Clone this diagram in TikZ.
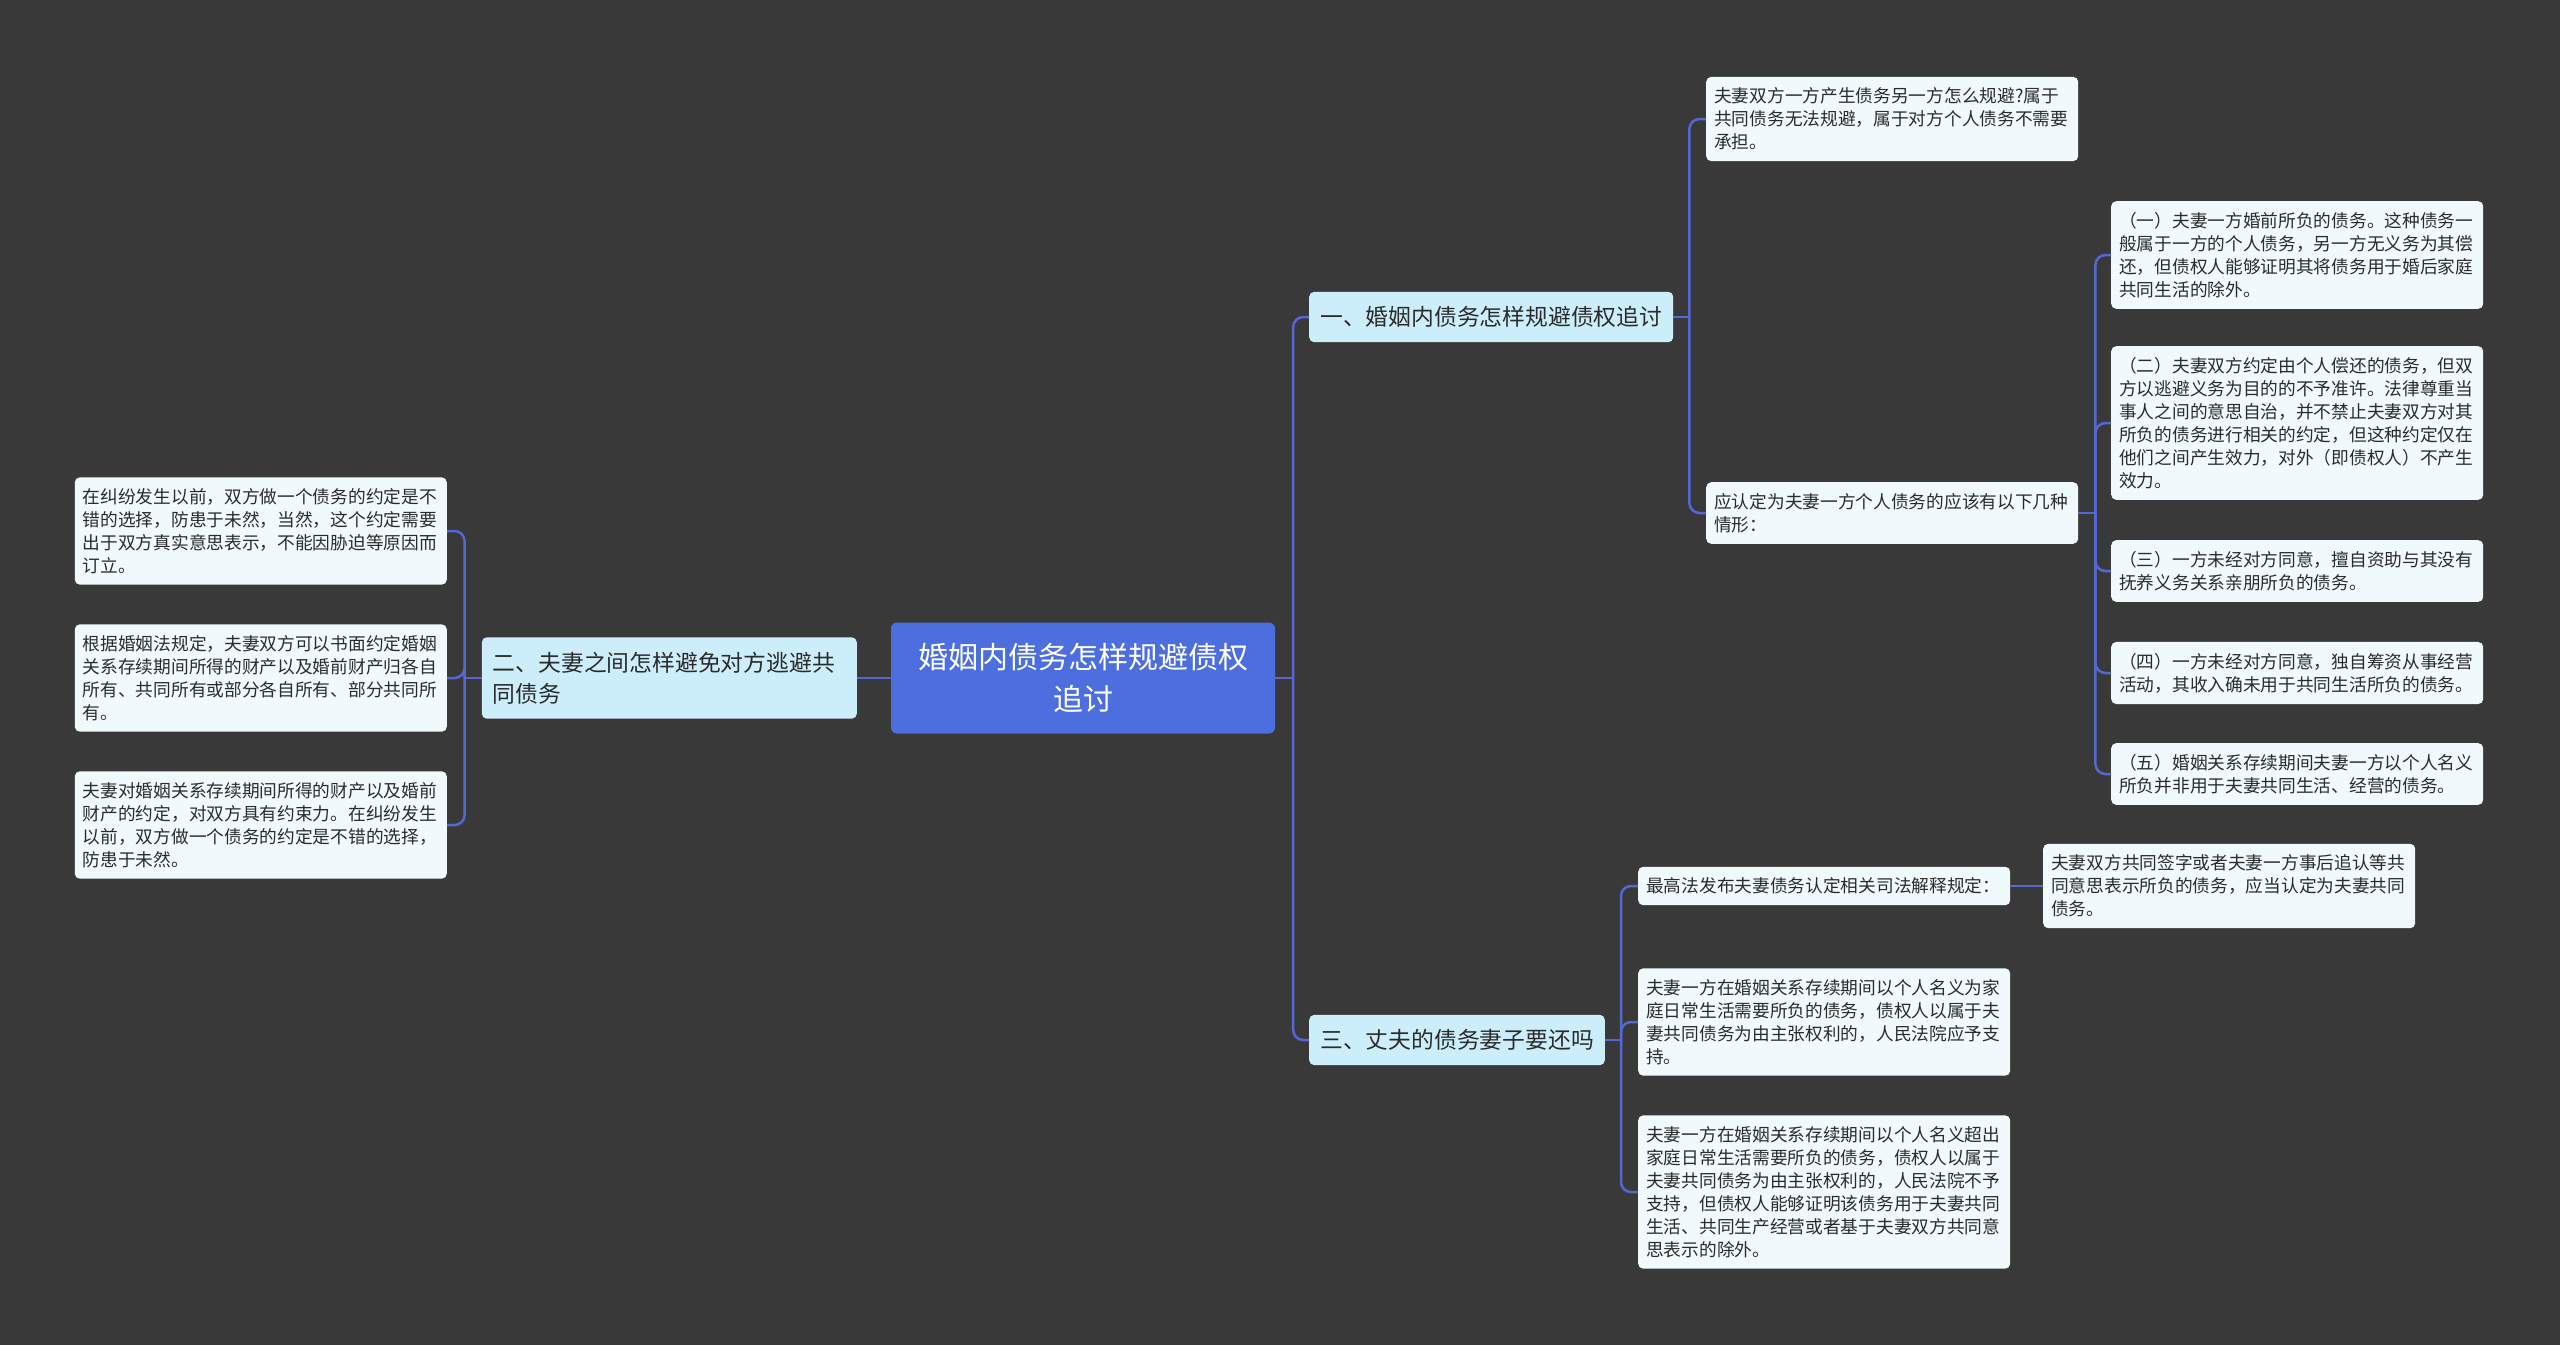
\documentclass[tikz,border=0pt]{standalone}
\usepackage{fontspec}
\newfontfamily\cjk{Noto Sans CJK SC}
\usetikzlibrary{calc}
\definecolor{bgc}{HTML}{3A3939}
\definecolor{rootfill}{HTML}{4C6EDE}
\definecolor{branchfill}{HTML}{CCEEFB}
\definecolor{leaffill}{HTML}{F0FAFC}
\definecolor{connc}{HTML}{5468D4}
\definecolor{txt}{HTML}{2B2B2B}
\begin{document}
\begin{tikzpicture}[x=1pt,y=-1pt,
  rootbox/.style={fill=rootfill, rounded corners=6pt, text=white, align=center,
    font=\cjk\fontsize{30pt}{42pt}\selectfont, minimum width=384pt, minimum height=111pt, inner sep=0pt},
  branchbox/.style={fill=branchfill, rounded corners=5pt, text=txt, align=left,
    font=\cjk\fontsize{22.8pt}{31pt}\selectfont, inner xsep=11pt, inner ysep=14.6pt},
  leafbox/.style={fill=leaffill, rounded corners=5pt, text=txt, align=left, text width=356pt,
    font=\cjk\fontsize{17.7pt}{23pt}\selectfont, inner xsep=8pt, inner ysep=11pt},
  conn/.style={draw=connc, line width=2.5pt, rounded corners=10pt}
]
\fill[bgc] (0,0) rectangle (2560,1345);
\useasboundingbox (0,0) rectangle (2560,1345);

% root
\node[rootbox] (root) at (1083,678) {婚姻内债务怎样规避债权\\追讨};

% branches
\node[branchbox, anchor=west] (b1) at (1309,317) {一、婚姻内债务怎样规避债权追讨};
\node[branchbox, anchor=east, text width=353pt] (b2) at (857,678) {二、夫妻之间怎样避免对方逃避共\\同债务};
\node[branchbox, anchor=west] (b3) at (1309,1040) {三、丈夫的债务妻子要还吗};

% branch 1 children
\node[leafbox, anchor=west] (a1) at (1706,119) {夫妻双方一方产生债务另一方怎么规避?属于\\共同债务无法规避，属于对方个人债务不需要\\承担。};
\node[leafbox, anchor=west] (a2) at (1706,513) {应认定为夫妻一方个人债务的应该有以下几种\\情形：};

\node[leafbox, anchor=west] (p1) at (2111,255) {（一）夫妻一方婚前所负的债务。这种债务一\\般属于一方的个人债务，另一方无义务为其偿\\还，但债权人能够证明其将债务用于婚后家庭\\共同生活的除外。};
\node[leafbox, anchor=west] (p2) at (2111,423) {（二）夫妻双方约定由个人偿还的债务，但双\\方以逃避义务为目的的不予准许。法律尊重当\\事人之间的意思自治，并不禁止夫妻双方对其\\所负的债务进行相关的约定，但这种约定仅在\\他们之间产生效力，对外（即债权人）不产生\\效力。};
\node[leafbox, anchor=west] (p3) at (2111,571) {（三）一方未经对方同意，擅自资助与其没有\\抚养义务关系亲朋所负的债务。};
\node[leafbox, anchor=west] (p4) at (2111,673) {（四）一方未经对方同意，独自筹资从事经营\\活动，其收入确未用于共同生活所负的债务。};
\node[leafbox, anchor=west] (p5) at (2111,774) {（五）婚姻关系存续期间夫妻一方以个人名义\\所负并非用于夫妻共同生活、经营的债务。};

% branch 2 children
\node[leafbox, anchor=east] (l1) at (447,531) {在纠纷发生以前，双方做一个债务的约定是不\\错的选择，防患于未然，当然，这个约定需要\\出于双方真实意思表示，不能因胁迫等原因而\\订立。};
\node[leafbox, anchor=east] (l2) at (447,678) {根据婚姻法规定，夫妻双方可以书面约定婚姻\\关系存续期间所得的财产以及婚前财产归各自\\所有、共同所有或部分各自所有、部分共同所\\有。};
\node[leafbox, anchor=east] (l3) at (447,825) {夫妻对婚姻关系存续期间所得的财产以及婚前\\财产的约定，对双方具有约束力。在纠纷发生\\以前，双方做一个债务的约定是不错的选择，\\防患于未然。};

% branch 3 children
\node[leafbox, anchor=west] (c1) at (1638,886) {最高法发布夫妻债务认定相关司法解释规定：};
\node[leafbox, anchor=west] (d1) at (2043,886) {夫妻双方共同签字或者夫妻一方事后追认等共\\同意思表示所负的债务，应当认定为夫妻共同\\债务。};
\node[leafbox, anchor=west] (c2) at (1638,1022) {夫妻一方在婚姻关系存续期间以个人名义为家\\庭日常生活需要所负的债务，债权人以属于夫\\妻共同债务为由主张权利的，人民法院应予支\\持。};
\node[leafbox, anchor=west] (c3) at (1638,1192) {夫妻一方在婚姻关系存续期间以个人名义超出\\家庭日常生活需要所负的债务，债权人以属于\\夫妻共同债务为由主张权利的，人民法院不予\\支持，但债权人能够证明该债务用于夫妻共同\\生活、共同生产经营或者基于夫妻双方共同意\\思表示的除外。};

% connectors: root
\coordinate (rj) at ($(root.east)+(18,0)$);
\draw[conn] (root.east) -- (rj);
\draw[conn] (rj) |- (b1.west);
\draw[conn] (rj) |- (b3.west);
\draw[conn] (root.west) -- (b2.east);

% branch 2
\coordinate (lj) at ($(b2.west)+(-17,0)$);
\draw[conn] (b2.west) -- (lj);
\draw[conn] (lj) |- (l1.east);
\draw[conn] (lj) |- (l2.east);
\draw[conn] (lj) |- (l3.east);

% branch 1
\coordinate (aj) at ($(b1.east)+(16,0)$);
\draw[conn] (b1.east) -- (aj);
\draw[conn] (aj) |- (a1.west);
\draw[conn] (aj) |- (a2.west);

\coordinate (pj) at ($(a2.east)+(17,0)$);
\draw[conn] (a2.east) -- (pj);
\draw[conn] (pj) |- (p1.west);
\draw[conn] (pj) |- (p2.west);
\draw[conn] (pj) |- (p3.west);
\draw[conn] (pj) |- (p4.west);
\draw[conn] (pj) |- (p5.west);

% branch 3
\coordinate (cj) at ($(b3.east)+(16,0)$);
\draw[conn] (b3.east) -- (cj);
\draw[conn] (cj) |- (c1.west);
\draw[conn] (cj) |- (c2.west);
\draw[conn] (cj) |- (c3.west);
\draw[conn] (c1.east) -- (d1.west);
\end{tikzpicture}
\end{document}
